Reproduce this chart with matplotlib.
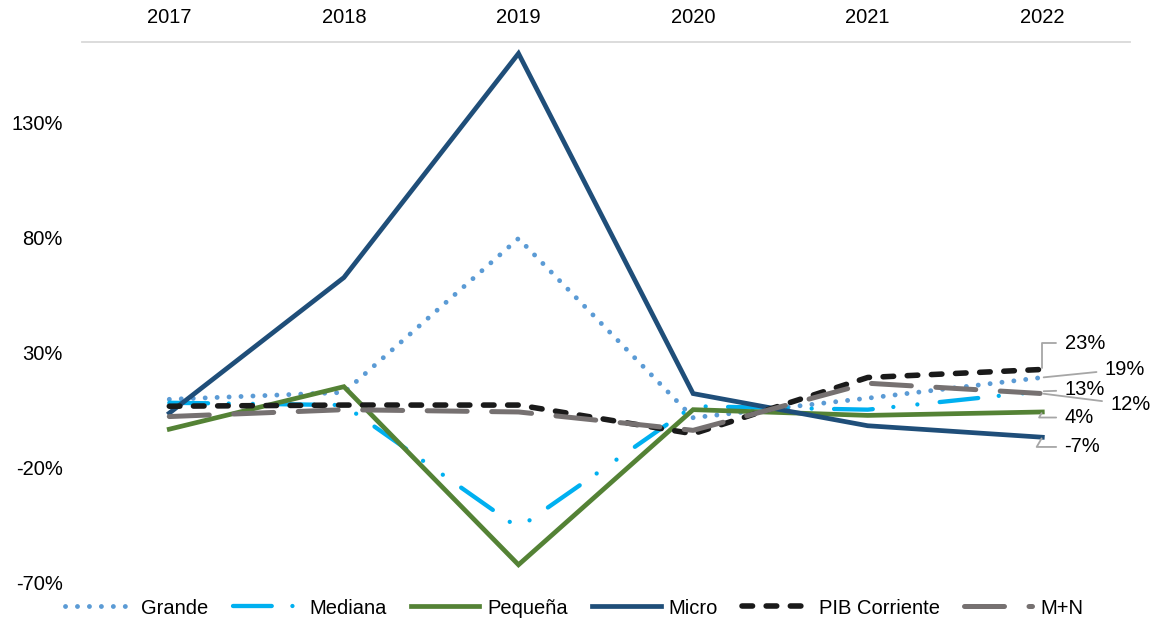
import matplotlib
matplotlib.use('Agg')
import matplotlib.pyplot as plt

plt.rcParams['font.family'] = ['Liberation Sans', 'DejaVu Sans']

# datos (variacion anual, %)
years = ['2017', '2018', '2019', '2020', '2021', '2022']
grande = [9.5, 12.5, 79.5, 1.5, 10, 19]
mediana = [8, 7, -46.5, 6.5, 5, 13]
pequena = [-3.5, 15, -62.5, 5, 2.5, 4]
micro = [3.5, 62.5, 160, 12, -2, -7]
pib = [6.5, 7, 7, -5.5, 19, 22.5]
myn = [2, 5, 4, -4, 16.5, 12]
end_labels = ['23%', '19%', '13%', '12%', '4%', '-7%']
yticks = [-70, -20, 30, 80, 130]

fig = plt.figure(figsize=(11.55, 6.23), dpi=100)
ax = fig.add_axes([0.071, 0.0658, 0.907, 0.8668])
x = list(range(len(years)))

ax.plot(x, grande, color='#5B9BD5', lw=3.5, ls=(0, (0.01, 2.45)),
        dash_capstyle='round', label='Grande')
ax.plot(x, mediana, color='#00B0F0', lw=3.1, ls=(0, (9, 4.8, 0.01, 5.6, 0.01, 5.2)),
        dash_capstyle='round', label='Mediana')
ax.plot(x, pequena, color='#548235', lw=3.4, label='Pequeña', solid_joinstyle='miter')
ax.plot(x, micro, color='#1F4E79', lw=3.4, label='Micro', solid_joinstyle='miter')
ax.plot(x, pib, color='#1A1A1A', lw=4.0, ls=(0, (1.9, 2.45)),
        dash_capstyle='round', label='PIB Corriente')
ax.plot(x, myn, color='#767171', lw=3.6, ls=(0, (8, 4.9)),
        dash_capstyle='round', label='M+N')

# etiquetas finales con lineas guia
series_end = [pib[-1], grande[-1], mediana[-1], myn[-1], pequena[-1], micro[-1]]
offsets = [(16, 19), (45, 6), (16, 1), (49, -8), (16, -4), (16, -7)]
conns = ['angle,angleA=0,angleB=90,rad=0', 'arc3', 'arc3', 'arc3',
         'angle,angleA=0,angleB=60,rad=0', 'angle,angleA=0,angleB=60,rad=0']
for val, lab, off, cs in zip(series_end, end_labels, offsets, conns):
    ax.annotate(lab, xy=(5, val), xytext=off, textcoords='offset points',
                ha='left', va='center', fontsize=14.5,
                arrowprops=dict(arrowstyle='-', color='#A6A6A6', lw=1.3,
                                connectionstyle=cs, shrinkA=4, shrinkB=1))

ax.set_xlim(-0.5, 5.5)
ax.set_ylim(-70, 165)
ax.set_xticks(x)
ax.set_xticklabels(years)
ax.set_yticks(yticks)
ax.set_yticklabels([f'{v}%' for v in yticks])
ax.xaxis.tick_top()
ax.tick_params(axis='x', length=0, pad=11, labelsize=14.5)
ax.tick_params(axis='y', length=0, pad=14, labelsize=14.5)
for s in ['left', 'right', 'bottom']:
    ax.spines[s].set_visible(False)
ax.spines['top'].set_color('#D9D9D9')
ax.spines['top'].set_linewidth(1.3)

fig.legend(loc='center', bbox_to_anchor=(0.497, 0.024), ncol=6, frameon=False,
           fontsize=14.5, handlelength=3.4, handletextpad=0.4, columnspacing=1.2)

fig.savefig('out.png', dpi=100)
